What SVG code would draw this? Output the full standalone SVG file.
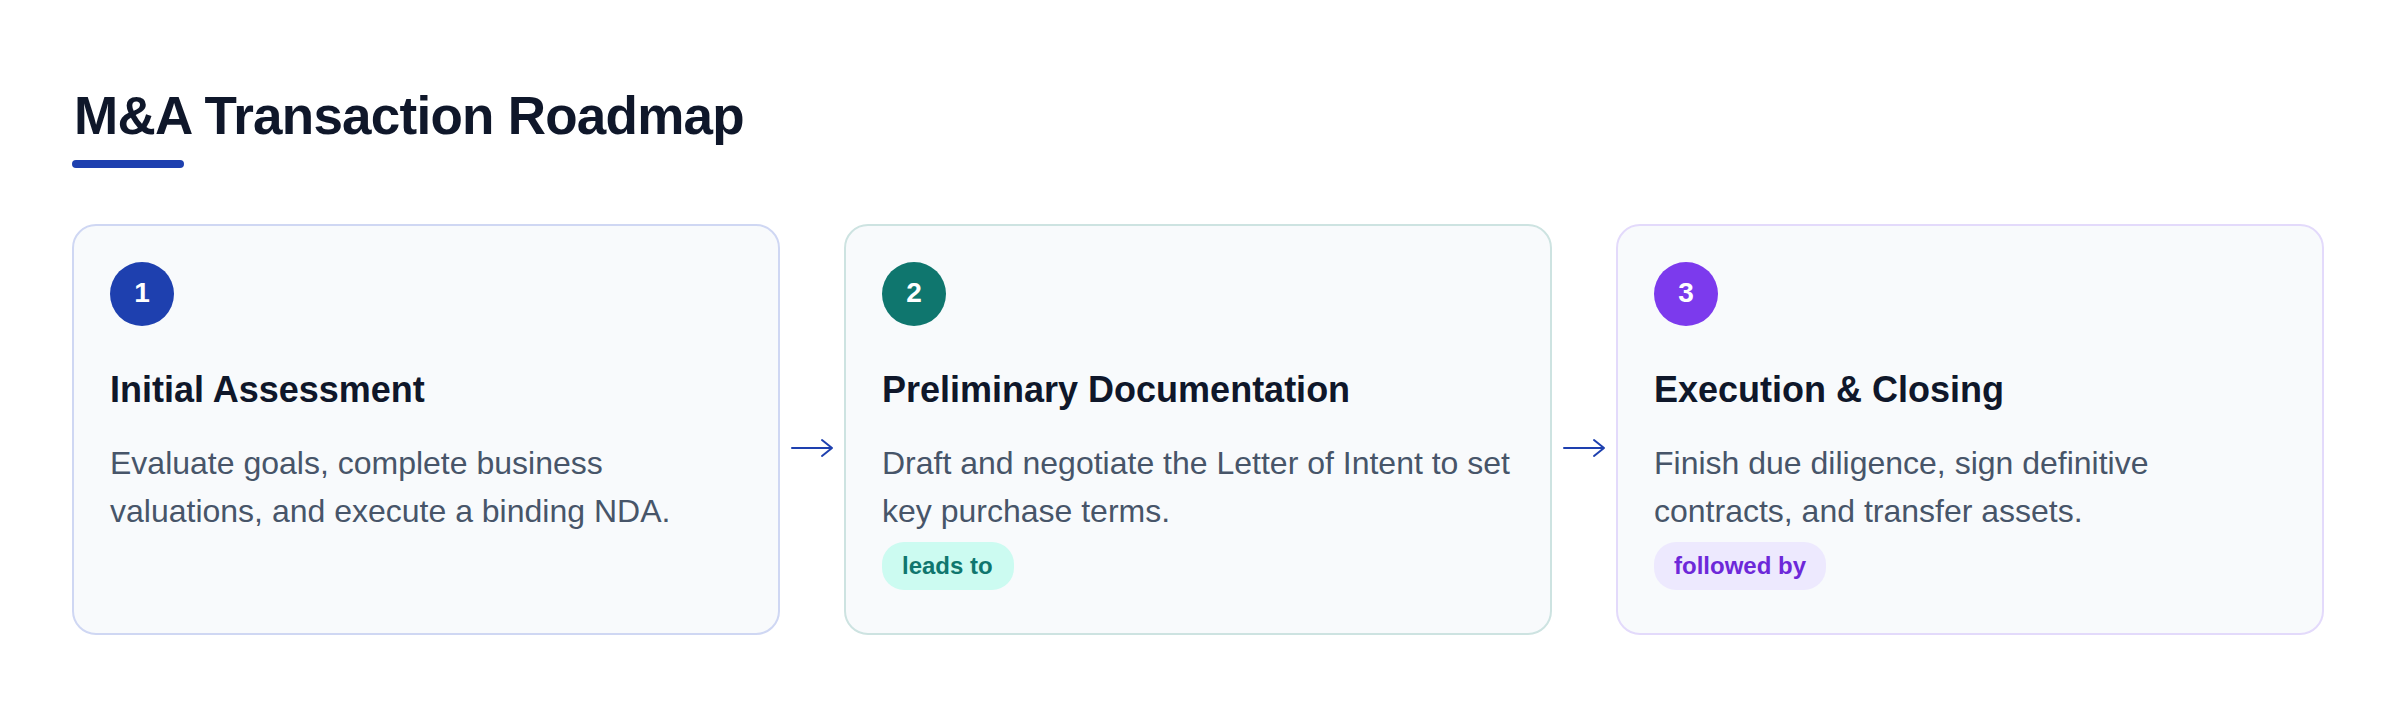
<svg xmlns="http://www.w3.org/2000/svg" width="2400" height="708" viewBox="0 0 2400 708">
  <style>
    .title { font-family: "Liberation Sans", Arial, sans-serif; font-weight: 700; font-size: 53px; letter-spacing: -0.75px; fill: #0f172a; }
    .card { fill: #f8fafc; stroke-width: 2; }
    .num { font-family: "Liberation Sans", Arial, sans-serif; font-weight: 700; font-size: 28px; fill: #ffffff; text-anchor: middle; }
    .head { font-family: "Liberation Sans", Arial, sans-serif; font-weight: 700; font-size: 36px; fill: #0f172a; }
    .body { font-family: "Liberation Sans", Arial, sans-serif; font-size: 32px; fill: #475569; }
    .pill { font-family: "Liberation Sans", Arial, sans-serif; font-weight: 700; font-size: 24px; }
    .arrow { stroke: #1e40af; stroke-width: 2; fill: none; stroke-linecap: round; stroke-linejoin: round; }
  </style>
  <rect x="0" y="0" width="2400" height="708" fill="#ffffff"/>
  <g id="header">
    <text class="title" x="74" y="134">M&amp;A Transaction Roadmap</text>
    <rect x="72" y="160" width="112" height="8" rx="4" fill="#1e40af"/>
  </g>
  <g id="step1">
    <rect class="card" x="73" y="225" width="706" height="409" rx="23" stroke="#cfd7f3"/>
    <circle cx="142" cy="294" r="32" fill="#1e40af"/>
    <text class="num" x="142" y="302">1</text>
    <text class="head" x="110" y="402">Initial Assessment</text>
    <text class="body" x="110" y="474">Evaluate goals, complete business</text>
    <text class="body" x="110" y="522">valuations, and execute a binding NDA.</text>
  </g>
  <g id="step2">
    <rect class="card" x="845" y="225" width="706" height="409" rx="23" stroke="#cde3e1"/>
    <circle cx="914" cy="294" r="32" fill="#0f766e"/>
    <text class="num" x="914" y="302">2</text>
    <text class="head" x="882" y="402">Preliminary Documentation</text>
    <text class="body" x="882" y="474">Draft and negotiate the Letter of Intent to set</text>
    <text class="body" x="882" y="522">key purchase terms.</text>
    <rect x="882" y="542" width="132" height="48" rx="22" fill="#ccfbf1"/>
    <text class="pill" x="902" y="574" fill="#0f766e">leads to</text>
  </g>
  <g id="step3">
    <rect class="card" x="1617" y="225" width="706" height="409" rx="23" stroke="#e3dafb"/>
    <circle cx="1686" cy="294" r="32" fill="#7c3aed"/>
    <text class="num" x="1686" y="302">3</text>
    <text class="head" x="1654" y="402">Execution &amp; Closing</text>
    <text class="body" x="1654" y="474">Finish due diligence, sign definitive</text>
    <text class="body" x="1654" y="522">contracts, and transfer assets.</text>
    <rect x="1654" y="542" width="172" height="48" rx="22" fill="#ede9fe"/>
    <text class="pill" x="1674" y="574" fill="#6d28d9">followed by</text>
  </g>
  <g id="connectors">
    <path class="arrow" d="M792,448 L832,448 M822,440 L832,448 L822,456"/>
    <path class="arrow" d="M1564,448 L1604,448 M1594,440 L1604,448 L1594,456"/>
  </g>
</svg>
